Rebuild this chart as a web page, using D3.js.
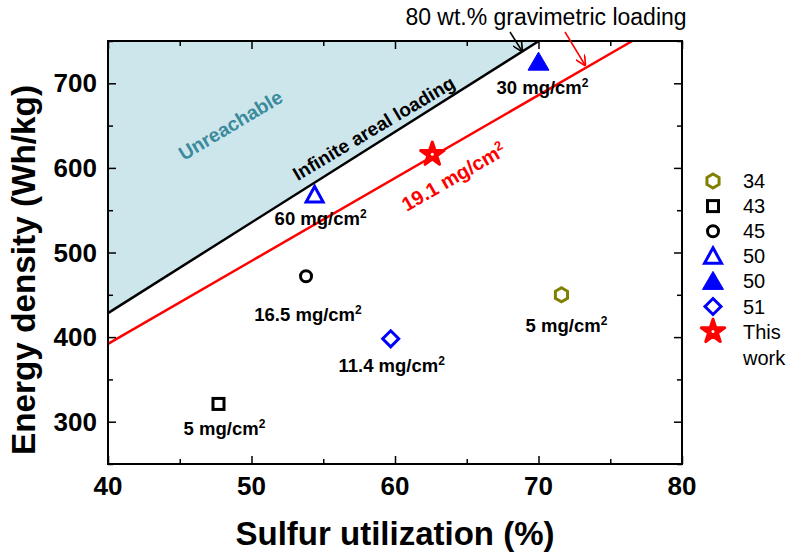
<!DOCTYPE html>
<html>
<head>
<meta charset="utf-8">
<script src="https://cdn.jsdelivr.net/npm/d3@7"></script>
<style>
  body { margin: 0; background: #fff; }
  text { font-family: "Liberation Sans", Arial, sans-serif; }
</style>
</head>
<body>
<div id="chart"></div>
<script>
// data
const refs = ["34", "43", "45", "50", "50", "51", "This work"];
const utilization = [71.6, 47.7, 53.8, 54.4, 70.0, 59.7, 62.6];   // %
const energy = [450, 321, 472, 568, 725, 398, 616];               // Wh/kg
const loadings = ["5", "5", "16.5", "60", "30", "11.4", null];    // mg/cm2
const markers = ["hexagon", "square", "circle", "triangle", "triangleFilled", "diamond", "star"];
const colors = ["#808000", "#000000", "#000000", "#0000ff", "#0000ff", "#0000ff", "#ff0000"];

// energy density = slope * utilization
const limitSlope = 10.71;   // infinite areal loading
const workSlope = 9.8;      // 19.1 mg/cm2

const xTicks = [40, 50, 60, 70, 80];
const yTicks = [300, 400, 500, 600, 700];

const width = 786, height = 558;
const margin = { top: 41, right: 104, bottom: 94, left: 108 };

const svg = d3.select("#chart").append("svg")
    .attr("width", width)
    .attr("height", height);

const x = d3.scaleLinear().domain([40, 80]).range([margin.left, width - margin.right]);
const y = d3.scaleLinear().domain([250, 750]).range([height - margin.bottom, margin.top]);

// unreachable area above the limit line
const xTop = 750 / limitSlope;
svg.append("path")
    .attr("d", d3.line()([[x(40), y(40 * limitSlope)], [x(xTop), y(750)], [x(40), y(750)]]) + "Z")
    .attr("fill", "#cde6ec");

svg.append("line")
    .attr("x1", x(40)).attr("y1", y(40 * limitSlope))
    .attr("x2", x(xTop)).attr("y2", y(750))
    .attr("stroke", "#000").attr("stroke-width", 2.5);

const xRed = 750 / workSlope;
svg.append("line")
    .attr("x1", x(40)).attr("y1", y(40 * workSlope))
    .attr("x2", x(xRed)).attr("y2", y(750))
    .attr("stroke", "#ff0000").attr("stroke-width", 2.5);

// axes, ticks pointing inward (major 8px, minor 5px)
const g = svg.append("g");
const xAll = d3.range(40, 81, 5), yAll = d3.range(250, 751, 50);
const xLen = d => (d % 10 === 0 ? -8 : -5);
const yLen = d => (d % 100 === 0 ? -8 : -5);
g.append("g").attr("transform", `translate(0,${y(250)})`)
    .call(d3.axisBottom(x).tickValues(xAll).tickFormat(""))
    .selectAll(".tick line").attr("y2", xLen);
g.append("g").attr("transform", `translate(0,${y(750)})`)
    .call(d3.axisTop(x).tickValues(xAll).tickFormat(""))
    .selectAll(".tick line").attr("y2", d => -xLen(d));
g.append("g").attr("transform", `translate(${x(40)},0)`)
    .call(d3.axisLeft(y).tickValues(yAll).tickFormat(""))
    .selectAll(".tick line").attr("x2", d => -yLen(d));
g.append("g").attr("transform", `translate(${x(80)},0)`)
    .call(d3.axisRight(y).tickValues(yAll).tickFormat(""))
    .selectAll(".tick line").attr("x2", yLen);
g.selectAll(".domain").remove();
g.selectAll(".tick line").attr("stroke", "#000").attr("stroke-width", 1.5);

svg.append("rect")
    .attr("x", x(40)).attr("y", y(750))
    .attr("width", x(80) - x(40)).attr("height", y(250) - y(750))
    .attr("fill", "none").attr("stroke", "#000").attr("stroke-width", 2);

svg.selectAll(".xlab").data(xTicks).enter().append("text")
    .attr("x", d => x(d)).attr("y", 495)
    .attr("text-anchor", "middle")
    .style("font-size", "26px").style("font-weight", "bold")
    .text(d => d);

svg.selectAll(".ylab").data(yTicks).enter().append("text")
    .attr("x", x(40) - 11).attr("y", d => y(d) + 9)
    .attr("text-anchor", "end")
    .style("font-size", "26px").style("font-weight", "bold")
    .text(d => d);

svg.append("text")
    .attr("x", 395).attr("y", 545)
    .attr("text-anchor", "middle")
    .style("font-size", "33px").style("font-weight", "bold")
    .text("Sulfur utilization (%)");

svg.append("text")
    .attr("transform", `translate(35,270) rotate(-90)`)
    .attr("text-anchor", "middle")
    .attr("textLength", 370).attr("lengthAdjust", "spacingAndGlyphs")
    .style("font-size", "33px").style("font-weight", "bold")
    .text("Energy density (Wh/kg)");

// marker shapes
function drawMarker(sel, type, color) {
    const sw = 3;
    if (type === "hexagon") {
        const r = 7;
        const pts = d3.range(6).map(i => {
            const a = Math.PI / 3 * i - Math.PI / 2;
            return [r * Math.cos(a), r * Math.sin(a)];
        });
        sel.append("path").attr("d", d3.line()(pts) + "Z")
            .attr("fill", "none").attr("stroke", color).attr("stroke-width", sw);
    } else if (type === "square") {
        sel.append("rect").attr("x", -5.5).attr("y", -5.5).attr("width", 11).attr("height", 11)
            .attr("fill", "none").attr("stroke", color).attr("stroke-width", sw);
    } else if (type === "circle") {
        sel.append("circle").attr("r", 5.5)
            .attr("fill", "none").attr("stroke", color).attr("stroke-width", sw);
    } else if (type === "triangle") {
        sel.append("path").attr("d", "M0,-8.5L8.5,7L-8.5,7Z")
            .attr("fill", "none").attr("stroke", color).attr("stroke-width", sw);
    } else if (type === "triangleFilled") {
        sel.append("path").attr("d", "M0,-10L10.5,8L-10.5,8Z")
            .attr("fill", color).attr("stroke", color).attr("stroke-width", 1);
    } else if (type === "diamond") {
        sel.append("path").attr("d", "M0,-8L8,0L0,8L-8,0Z")
            .attr("fill", "none").attr("stroke", color).attr("stroke-width", sw);
    } else if (type === "star") {
        sel.append("path").attr("d", d3.symbol(d3.symbolStar, 170)())
            .attr("fill", color).attr("stroke", color).attr("stroke-width", 3)
            .attr("stroke-linejoin", "round");
        sel.append("circle").attr("r", 1.5).attr("fill", "#fff");
    }
}

const points = svg.selectAll(".pt").data(refs).enter().append("g")
    .attr("transform", (d, i) => `translate(${x(utilization[i])},${y(energy[i])})`);
points.each(function (d, i) { drawMarker(d3.select(this), markers[i], colors[i]); });

// loading labels below each marker
const labelShift = [[5, 37], [6, 31], [2, 45], [6, 30], [4, 32], [1, 33]];
function unitLabel(t, v, size) {
    t.append("tspan").text(v + " mg/cm");
    t.append("tspan").attr("dy", -7).style("font-size", (size * 0.65) + "px").text("2");
}
loadings.forEach((v, i) => {
    if (v === null) return;
    const t = svg.append("text")
        .attr("x", x(utilization[i]) + labelShift[i][0])
        .attr("y", y(energy[i]) + labelShift[i][1])
        .attr("text-anchor", "middle")
        .style("font-size", "18.5px").style("font-weight", "bold");
    unitLabel(t, v, 18.5);
});

// rotated annotations along the lines
const angle = s => -Math.atan(s * (y(0) - y(1)) / (x(1) - x(0))) * 180 / Math.PI;

svg.append("text")
    .attr("transform", `translate(377,134) rotate(${angle(limitSlope) + 1.5})`)
    .attr("text-anchor", "middle")
    .style("font-size", "19px").style("font-weight", "bold")
    .text("Infinite areal loading");

svg.append("text")
    .attr("transform", `translate(234,131) rotate(${angle(limitSlope) + 1.5})`)
    .attr("text-anchor", "middle")
    .style("font-size", "19.5px").style("font-weight", "bold")
    .attr("fill", "#3b8b9d")
    .text("Unreachable");

const red = svg.append("text")
    .attr("transform", `translate(457,183) rotate(${angle(workSlope)})`)
    .attr("text-anchor", "middle")
    .style("font-size", "20px").style("font-weight", "bold")
    .attr("fill", "#ff0000");
unitLabel(red, "19.1", 20);

svg.append("text")
    .attr("x", 546).attr("y", 25)
    .attr("text-anchor", "middle")
    .style("font-size", "23px")
    .text("80 wt.% gravimetric loading");

// arrows
const defs = svg.append("defs");
[["arrBlack", "#000"], ["arrRed", "#ff0000"]].forEach(([id, c]) => {
    defs.append("marker").attr("id", id)
        .attr("viewBox", "0 0 10 10").attr("refX", 9).attr("refY", 5)
        .attr("markerWidth", 7).attr("markerHeight", 7)
        .attr("orient", "auto")
        .append("path").attr("d", "M0,0L10,5L0,10").attr("fill", "none")
        .attr("stroke", c).attr("stroke-width", 1.6);
});
svg.append("line").attr("x1", 510).attr("y1", 32).attr("x2", 522).attr("y2", 51)
    .attr("stroke", "#000").attr("stroke-width", 1.5).attr("marker-end", "url(#arrBlack)");
svg.append("line").attr("x1", 565).attr("y1", 32).attr("x2", 585).attr("y2", 65)
    .attr("stroke", "#ff0000").attr("stroke-width", 1.5).attr("marker-end", "url(#arrRed)");

// legend
const legend = svg.selectAll(".legend").data(refs).enter().append("g")
    .attr("transform", (d, i) => `translate(713,${181 + i * 25.1})`);
legend.each(function (d, i) { drawMarker(d3.select(this), markers[i], colors[i]); });
legend.append("text")
    .attr("x", 30).attr("y", 7)
    .style("font-size", "20px")
    .each(function (d) {
        const words = d.split(" ");
        d3.select(this).text(words[0]);
        if (words[1]) {
            d3.select(this).append("tspan").attr("x", 30).attr("dy", 26).text(words[1]);
        }
    });
</script>
</body>
</html>
